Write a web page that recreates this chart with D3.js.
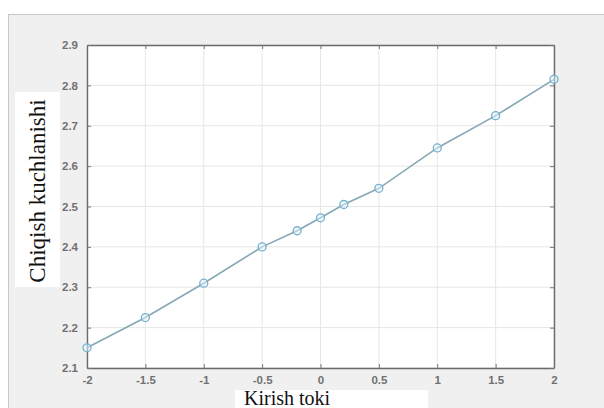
<!DOCTYPE html>
<html>
<head>
<meta charset="utf-8">
<script src="https://cdn.jsdelivr.net/npm/d3@7"></script>
<style>
  body { margin: 0; background: #fff; }
  svg { display: block; }
</style>
</head>
<body>
<svg></svg>
<script>
const xValues = [-2, -1.5, -1, -0.5, -0.2, 0, 0.2, 0.5, 1, 1.5, 2];
const yValues = [2.15, 2.225, 2.31, 2.40, 2.44, 2.472, 2.505, 2.545, 2.645, 2.725, 2.815];
const xTicks = [-2, -1.5, -1, -0.5, 0, 0.5, 1, 1.5, 2];
const yTicks = [2.1, 2.2, 2.3, 2.4, 2.5, 2.6, 2.7, 2.8, 2.9];

const width = 604, height = 408;
const svg = d3.select("svg").attr("width", width).attr("height", height);

// figure frame
svg.append("rect")
    .attr("x", 8.5).attr("y", 14.5)
    .attr("width", width).attr("height", height)
    .attr("fill", "#f0f0f0")
    .attr("stroke", "#c8c8c8");

const pLeft = 87, pRight = 554, pTop = 45, pBottom = 368;

const x = d3.scaleLinear().domain([-2, 2]).range([pLeft, pRight]);
const y = d3.scaleLinear().domain([2.1, 2.9]).range([pBottom, pTop]);

svg.append("rect")
    .attr("x", pLeft).attr("y", pTop)
    .attr("width", pRight - pLeft).attr("height", pBottom - pTop)
    .attr("fill", "#fff");

// grid
svg.append("g")
    .selectAll("line")
    .data(xTicks)
    .enter().append("line")
    .attr("x1", d => x(d)).attr("x2", d => x(d))
    .attr("y1", pTop).attr("y2", pBottom)
    .attr("stroke", "#e6e6e6");
svg.append("g")
    .selectAll("line")
    .data(yTicks)
    .enter().append("line")
    .attr("x1", pLeft).attr("x2", pRight)
    .attr("y1", d => y(d)).attr("y2", d => y(d))
    .attr("stroke", "#e6e6e6");

// axes, ticks pointing inward
const axisStyle = g => {
    g.select(".domain").attr("stroke", "#6a6a6a").attr("stroke-width", 1.4);
    g.selectAll(".tick line").attr("stroke", "#777");
    g.selectAll(".tick text")
        .attr("fill", "#707070")
        .style("font-family", "Liberation Sans, Arial, sans-serif")
        .style("font-size", "11.5px")
        .style("font-weight", "bold");
};
const fmtX = d => String(d);

svg.append("g")
    .attr("transform", `translate(0,${pBottom})`)
    .call(d3.axisBottom(x).tickValues(xTicks).tickSize(-4).tickPadding(8).tickFormat(fmtX).tickSizeOuter(0))
    .call(axisStyle);
svg.append("g")
    .attr("transform", `translate(0,${pTop})`)
    .call(d3.axisTop(x).tickValues(xTicks).tickSize(-4).tickFormat("").tickSizeOuter(0))
    .call(axisStyle);
svg.append("g")
    .attr("transform", `translate(${pLeft},0)`)
    .call(d3.axisLeft(y).tickValues(yTicks).tickSize(-4).tickPadding(9).tickFormat(d3.format(".1f")).tickSizeOuter(0))
    .call(axisStyle);
svg.append("g")
    .attr("transform", `translate(${pRight},0)`)
    .call(d3.axisRight(y).tickValues(yTicks).tickSize(-4).tickFormat("").tickSizeOuter(0))
    .call(axisStyle);

// data line
const pts = xValues.map((v, i) => [v, yValues[i]]);
svg.append("path")
    .datum(pts)
    .attr("fill", "none")
    .attr("stroke", "#86a8b4")
    .attr("stroke-width", 1.6)
    .attr("d", d3.line().x(d => x(d[0])).y(d => y(d[1])));

svg.append("g")
    .selectAll("circle")
    .data(pts)
    .enter().append("circle")
    .attr("cx", d => x(d[0]))
    .attr("cy", d => y(d[1]))
    .attr("r", 4)
    .attr("fill", "#e8f2f7")
    .attr("fill-opacity", 0.5)
    .attr("stroke", "#72b2d0")
    .attr("stroke-width", 1.3);

// axis labels on white boxes
svg.append("rect")
    .attr("x", 15).attr("y", 92).attr("width", 45).attr("height", 195)
    .attr("fill", "#fff");
svg.append("text")
    .attr("transform", "translate(45,191) rotate(-90)")
    .attr("text-anchor", "middle")
    .style("font-family", "Liberation Serif, Times New Roman, serif")
    .style("font-size", "23px")
    .attr("fill", "#111")
    .text("Chiqish kuchlanishi");

svg.append("rect")
    .attr("x", 235).attr("y", 390).attr("width", 193).attr("height", 18)
    .attr("fill", "#fff");
svg.append("text")
    .attr("x", 244).attr("y", 405)
    .style("font-family", "Liberation Serif, Times New Roman, serif")
    .style("font-size", "20px")
    .attr("fill", "#111")
    .text("Kirish toki");
</script>
</body>
</html>
